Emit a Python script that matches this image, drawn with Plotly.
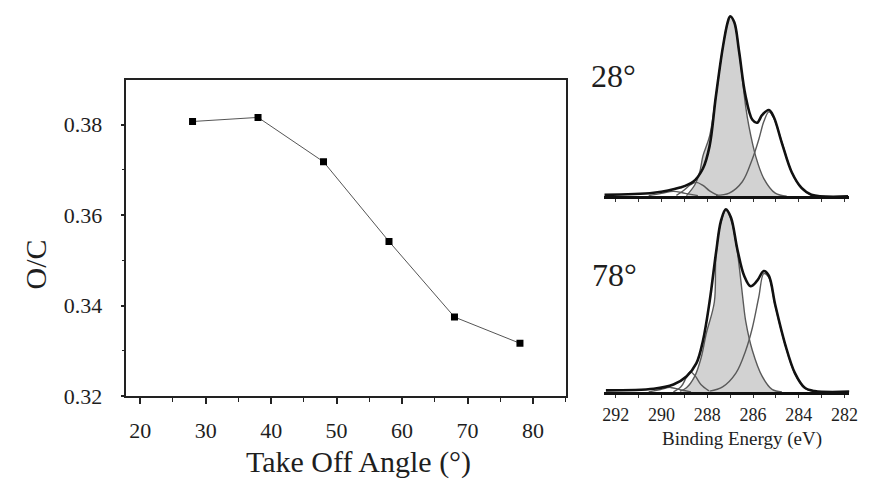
import plotly.graph_objects as go

W, H = 872, 493

# ---- Main chart data: O/C ratio vs take-off angle ----
angles = [28, 38, 48, 58, 68, 78]
oc_ratio = [0.3807, 0.3816, 0.3718, 0.3542, 0.3375, 0.3317]

# ---- C1s spectrum at 28 deg (binding energy eV, intensity a.u.) ----
top_env_be = [292.5, 290.34, 289.19, 288.62, 288.19, 287.90, 287.63, 287.33, 287.11, 287.00,
              286.82, 286.61, 286.34, 286.03, 285.82, 285.60, 285.31, 285.10, 284.74, 284.31,
              283.88, 283.45, 281.85]
top_env_i = [0.9, 2.0, 4.9, 8.1, 15.5, 27.9, 55.0, 82.0, 96.6, 100.0,
             96.6, 80.4, 56.6, 42.5, 40.9, 45.2, 47.9, 44.2, 29.6, 13.4,
             4.7, 0.9, 0.0]
top_main_be = [288.91, 288.55, 288.33, 288.19, 287.90, 287.63, 287.33, 287.11, 287.00, 286.82,
               286.61, 286.32, 286.18, 285.89, 285.53, 285.03, 284.53]
top_main_i = [0.4, 6.3, 13.5, 22.5, 33.4, 55.0, 82.0, 96.6, 99.8, 96.6,
              80.4, 49.6, 38.8, 22.5, 9.9, 1.8, 0.1]
top_c2_be = [287.62, 287.04, 286.47, 286.03, 285.75, 285.53, 285.31, 285.10, 284.74, 284.31,
             283.88, 283.45]
top_c2_i = [0.6, 1.8, 8.1, 20.8, 31.6, 41.5, 46.9, 43.6, 30.1, 13.4, 4.4, 0.6]
top_c3_be = [289.35, 289.05, 288.75, 288.48, 288.19, 287.90, 287.54]
top_c3_i = [0.6, 3.1, 6.3, 7.8, 6.1, 3.1, 0.6]
top_c4_be = [290.56, 290.00, 289.48, 288.97, 288.41]
top_c4_i = [0.4, 1.7, 2.8, 1.7, 0.4]

# ---- C1s spectrum at 78 deg ----
bot_env_be = [292.43, 290.34, 289.48, 288.91, 288.48, 288.19, 287.90, 287.62, 287.40, 287.19,
              286.97, 286.68, 286.39, 286.11, 285.82, 285.53, 285.31, 285.03, 284.60, 284.17,
              283.74, 283.31, 281.72]
bot_env_i = [1.1, 2.0, 4.3, 8.7, 15.8, 28.2, 49.5, 76.1, 93.8, 100.0,
             95.6, 77.8, 63.7, 58.0, 61.0, 66.3, 63.7, 47.7, 26.4, 10.5,
             2.5, 0.7, 0.4]
bot_main_be = [289.19, 288.91, 288.55, 288.26, 288.05, 287.69, 287.62, 287.40, 287.19, 286.97,
               286.71, 286.55, 286.43, 286.32, 286.03, 285.60, 285.17, 284.74]
bot_main_i = [0.7, 2.5, 8.7, 19.3, 31.8, 49.5, 75.0, 93.1, 99.5, 94.7,
              78.7, 62.8, 49.5, 38.8, 22.9, 8.7, 1.6, 0.3]
bot_c2_be = [287.90, 287.33, 286.75, 286.32, 286.03, 285.75, 285.53, 285.31, 285.03, 284.60,
             284.17, 283.74, 283.31]
bot_c2_i = [0.7, 3.0, 10.5, 22.9, 35.3, 52.1, 64.9, 62.8, 47.3, 26.1, 10.1, 2.4, 0.4]
bot_c3_be = [289.48, 289.14, 288.92, 288.74, 288.53, 288.28, 287.93]
bot_c3_i = [0.3, 3.2, 8.0, 11.2, 9.0, 4.3, 0.8]
bot_c4_be = [290.56, 290.04, 289.61, 289.14, 288.71]
bot_c4_i = [0.3, 1.6, 2.7, 1.3, 0.3]

be_ticks = [292, 290, 288, 286, 284, 282]

FONT = "Liberation Serif"
TXT = "#1e1e1e"

fig = go.Figure()

# Main O/C chart
fig.add_trace(go.Scatter(x=angles, y=oc_ratio, mode="lines+markers",
                         line=dict(color="#555555", width=1),
                         marker=dict(symbol="square", size=7, color="black"),
                         xaxis="x", yaxis="y", showlegend=False))

def add_spectrum(xa, ya, env_be, env_i, main_be, main_i, comps):
    fig.add_trace(go.Scatter(x=main_be, y=main_i, mode="lines", fill="tozeroy",
                             fillcolor="#d2d2d2", line=dict(color="#5a5a5a", width=1.4, shape="spline"),
                             xaxis=xa, yaxis=ya, showlegend=False))
    for be, it in comps:
        fig.add_trace(go.Scatter(x=be, y=it, mode="lines",
                                 line=dict(color="#5a5a5a", width=1.4, shape="spline"),
                                 xaxis=xa, yaxis=ya, showlegend=False))
    fig.add_trace(go.Scatter(x=env_be, y=env_i, mode="lines",
                             line=dict(color="#111111", width=2.6, shape="spline"),
                             xaxis=xa, yaxis=ya, showlegend=False))

add_spectrum("x2", "y2", top_env_be, top_env_i, top_main_be, top_main_i,
             [(top_c2_be, top_c2_i), (top_c3_be, top_c3_i), (top_c4_be, top_c4_i)])
add_spectrum("x3", "y3", bot_env_be, bot_env_i, bot_main_be, bot_main_i,
             [(bot_c2_be, bot_c2_i), (bot_c3_be, bot_c3_i), (bot_c4_be, bot_c4_i)])

def px(x):
    return x / W

def py(y):
    return 1 - y / H

axis_common = dict(showgrid=False, zeroline=False)

spec_x = dict(axis_common, range=[292.5, 281.8], domain=[px(610), px(858)],
              showline=True, linecolor="#111111", linewidth=3,
              ticks="outside", ticklen=3, tickcolor="#333333", tickwidth=1,
              tickvals=be_ticks,
              minor=dict(ticks="outside", ticklen=3, dtick=1, tickcolor="#333333", tickwidth=1),
              tickfont=dict(family=FONT, size=18, color=TXT))

fig.update_layout(
    width=W, height=H,
    margin=dict(l=0, r=0, t=0, b=0),
    paper_bgcolor="white", plot_bgcolor="white",
    font=dict(family=FONT, color=TXT),
    xaxis=dict(axis_common, domain=[px(126), px(571)], range=[17.9, 85.0], anchor="y",
               showline=True, mirror=True, linecolor="#222222", linewidth=1.5,
               ticks="outside", ticklen=6, tickwidth=1.5, tickcolor="#222222",
               dtick=10, tick0=0,
               minor=dict(ticks="outside", ticklen=4, tickwidth=1.2, tickcolor="#222222", dtick=10, tick0=5),
               tickfont=dict(family=FONT, size=22, color=TXT), ticklabelstandoff=8),
    yaxis=dict(axis_common, domain=[py(407), py(82)], range=[0.32, 0.3899], anchor="x",
               showline=True, mirror=True, linecolor="#222222", linewidth=1.5,
               ticks="outside", ticklen=4, tickwidth=1.5, tickcolor="#222222",
               tickvals=[0.32, 0.34, 0.36, 0.38], ticktext=["0.32", "0.34", "0.36", "0.38"],
               minor=dict(ticks="outside", ticklen=3, tickwidth=1.2, tickcolor="#222222",
                          tickvals=[0.33, 0.35, 0.37]),
               tickfont=dict(family=FONT, size=22, color=TXT), ticklabelstandoff=14),
    xaxis2=dict(spec_x, anchor="y2", showticklabels=False),
    yaxis2=dict(axis_common, domain=[py(201.7), py(10)], range=[0, 103.6], anchor="x2",
                visible=False),
    xaxis3=dict(spec_x, anchor="y3", showticklabels=True, ticklabelstandoff=1),
    yaxis3=dict(axis_common, domain=[py(403), py(208)], range=[0, 103.7], anchor="x3",
                visible=False),
)

annos = [
    dict(text="O/C", x=px(34), y=py(272), textangle=-90, size=30),
    dict(text="Take Off Angle (°)", x=px(361), y=py(475), textangle=0, size=30),
    dict(text="28°", x=px(619), y=py(78), textangle=0, size=32),
    dict(text="78°", x=px(620), y=py(282), textangle=0, size=32),
    dict(text="Binding Energy (eV)", x=px(749), y=py(451), textangle=0, size=19),
]
for a in annos:
    fig.add_annotation(text=a["text"], x=a["x"], y=a["y"], xref="paper", yref="paper",
                       xanchor="center", yanchor="middle", showarrow=False,
                       textangle=a["textangle"],
                       font=dict(family=FONT, size=a["size"], color=TXT))

fig.write_html("out.html")
